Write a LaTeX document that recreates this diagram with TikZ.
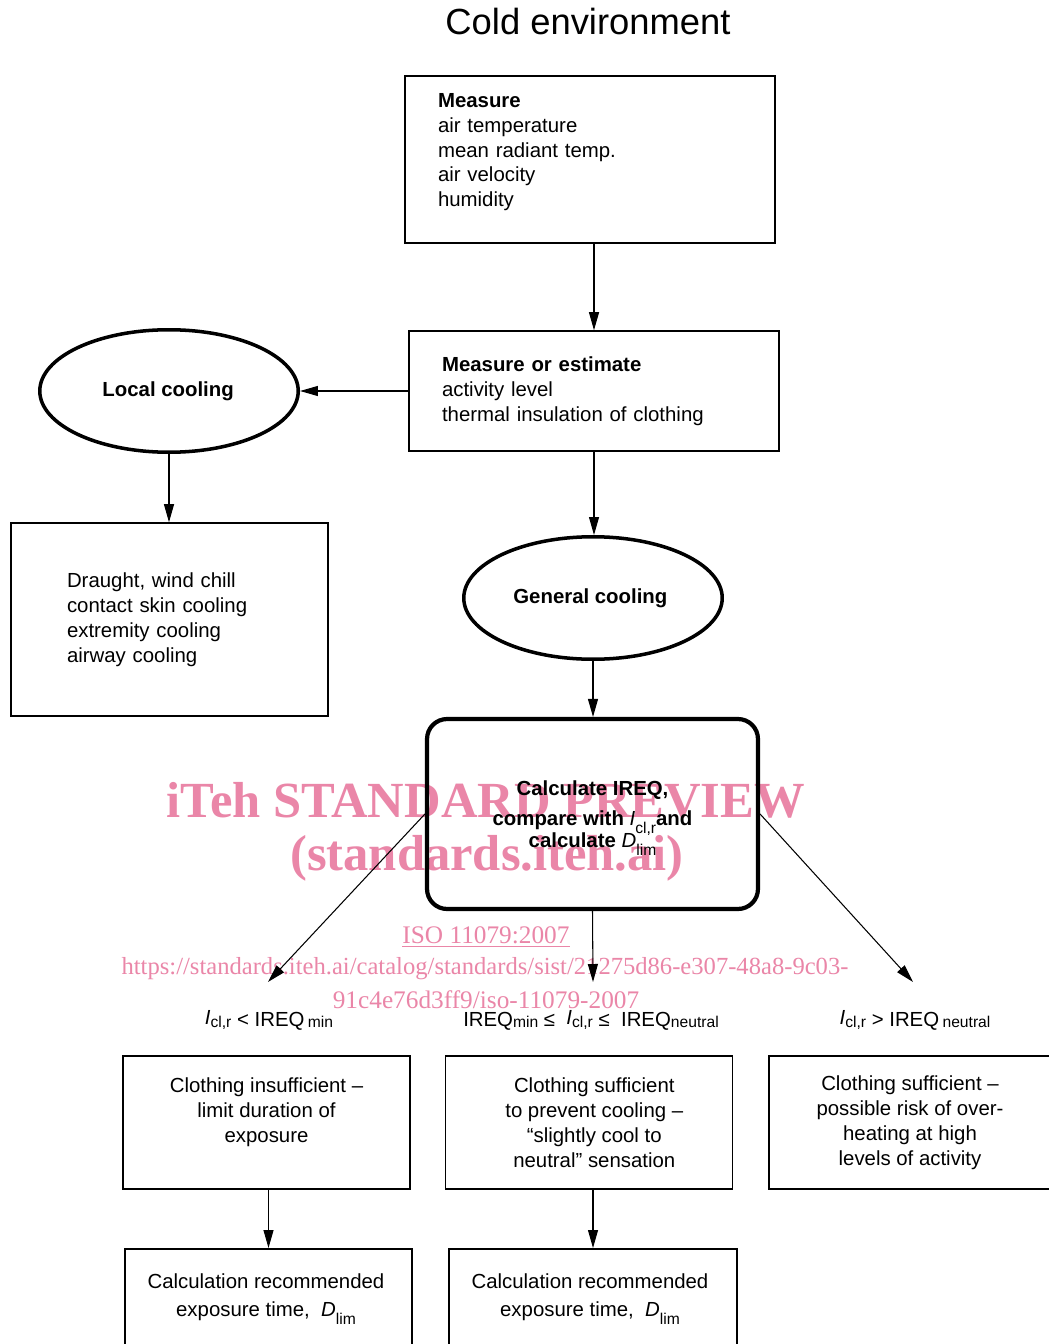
\documentclass[tikz,border=0pt]{standalone}
\usepackage{fontspec}
\setmainfont{Liberation Sans}
\newfontfamily\wmfont{Liberation Serif}
\usetikzlibrary{arrows.meta,positioning,shapes.geometric}
\definecolor{wmpink}{HTML}{EA86A8}
\tikzset{
  txt/.style={font=\fontsize{11.6}{14.2}\selectfont},
  flowbox/.style={draw, line width=0.9pt, txt, inner ysep=0pt},
  leftbox/.style={flowbox, align=left},
  midbox/.style={flowbox, align=center, minimum width=5.74cm, minimum height=2.66cm, inner xsep=0pt},
  coolell/.style={ellipse, draw, line width=2pt, inner sep=0pt, font=\fontsize{11.6}{14.2}\selectfont\bfseries,
    minimum width=5.17cm, minimum height=2.45cm},
  calcbox/.style={draw, rounded corners=0.4cm, line width=2.4pt, align=center,
    minimum width=6.62cm, minimum height=3.8cm, font=\fontsize{11.6}{14.2}\selectfont\bfseries},
  condlbl/.style={txt, inner sep=0pt},
  wmark/.style={text=wmpink, inner sep=0pt},
  arr/.style={-{Triangle[length=0.36cm,width=0.2cm]}, line width=0.6pt}
}
\newcommand{\subs}[2]{\raisebox{-#1}[0pt][0pt]{\fontsize{8.9}{10}\selectfont\mdseries #2}}
\newcommand{\Icl}{\raisebox{1.2pt}{\textit{I}}\subs{1pt}{cl,r}}
\newcommand{\Dlim}{\textit{D}\subs{4.5pt}{lim}}

\begin{document}
\begin{tikzpicture}[x=0.02cm,y=-0.02cm]
  \useasboundingbox (0,0) rectangle (1048,1344);
  % watermark
  \node[wmark, font=\wmfont\fontsize{28.8}{32}\selectfont\bfseries] (wmtitle) at (486,800) {iTeh STANDARD PREVIEW};
  \node[wmark, font=\wmfont\fontsize{28.8}{32}\selectfont\bfseries] (wmsite) at (487,858) {(standards.iteh.ai)};
  \node[wmark, font=\wmfont\fontsize{14.4}{16}\selectfont] (wmiso) at (486,937) {\underline{ISO 11079:2007}};
  \node[wmark, font=\wmfont\fontsize{14}{16}\selectfont] (wmurla) at (485,969) {https://standards.iteh.ai/catalog/standards/sist/21275d86-e307-48a8-9c03-};
  \node[wmark, font=\wmfont\fontsize{14.4}{16}\selectfont] (wmurlb) at (486,1000) {91c4e76d3ff9/iso-11079-2007};

  \node[font=\fontsize{20.7}{24}\selectfont, inner sep=0pt] (title) at (588,22) {Cold environment};

  \node[leftbox, text width=6.08cm, inner xsep=0.66cm, minimum height=3.34cm] (meas) at (590,159.5)
    {\textbf{Measure}\\air temperature\\mean radiant temp.\\air velocity\\humidity\\[-0.12cm]\mbox{}};
  \node[leftbox, text width=6.08cm, inner xsep=0.66cm, minimum height=2.4cm] (est) at (594,391)
    {\textbf{Measure or estimate}\\activity level\\thermal insulation of clothing};
  \node[coolell] (localc) at (169,391) {\hspace*{-1pt}Local cooling};
  \node[leftbox, text width=4.1cm, inner xsep=1.12cm, minimum height=3.86cm] (draught) at (169.5,619.5)
    {Draught, wind chill\\contact skin cooling\\extremity cooling\\airway cooling};
  \node[coolell] (genc) at (593,598) {\hspace*{-3pt}General cooling};
  \node[calcbox] (calc) at (592.5,814)
    {Calculate IREQ,\\[0.1cm]compare with \textnormal{\textit{I}\subs{4.5pt}{cl,r}}and\\[-0.06cm]calculate \textnormal{\Dlim}};

  \coordinate (tipL) at (268,982);
  \coordinate (tipM) at (593,982);
  \coordinate (tipR) at (913,982);
  \node[condlbl] (condL) at (269,1020) {\Icl{} < IREQ\,\subs{1pt}{min}};
  \node[condlbl] (condM) at (591,1020) {IREQ\subs{1pt}{min} ≤ \;\Icl{} ≤ \;IREQ\subs{1pt}{neutral}};
  \node[condlbl] (condR) at (915,1020) {\Icl{} > IREQ\,\subs{1pt}{neutral}};

  \node[midbox] (clothA) at (266.5,1122.5) {Clothing insufficient --\\limit duration of\\exposure\\\mbox{}};
  \node[midbox] (clothB) at (589,1122.5) {\hspace*{6pt}Clothing sufficient\\\hspace*{6pt}to prevent cooling --\\\hspace*{6pt}“slightly cool to\\\hspace*{6pt}neutral” sensation};
  \node[midbox, minimum width=5.64cm] (clothC) at (910,1122.5) {Clothing sufficient --\\possible risk of over-\\heating at high\\levels of activity};

  \node[midbox, anchor=north] (recA) at (268.5,1248) {};
  \node[midbox, anchor=north, minimum width=5.76cm] (recB) at (593,1248) {};
  \node[txt, align=center, inner sep=0pt] (recAtxt) at (266,1297) {Calculation recommended\\[0.07cm]exposure time,\; \Dlim};
  \node[txt, align=center, inner sep=0pt] (recBtxt) at (590,1297) {Calculation recommended\\[0.07cm]exposure time,\; \Dlim};

  \draw[arr] (est.north |- meas.south) -- (est.north);
  \draw[arr] (est.west) -- (localc.east);
  \draw[arr] (localc.south) -- (localc.south |- draught.north);
  \draw[arr] (est.south) -- (est.south |- genc.north);
  \draw[arr] (genc.south) -- (genc.south |- calc.north);
  \draw[arr] (calc.west) -- (tipL);
  \draw[arr] (calc.south) -- (tipM);
  \draw[arr] (calc.east) -- (tipR);
  \draw[arr] (clothA.south -| recA.north) -- (recA.north);
  \draw[arr] (clothB.south -| recB.north) -- (recB.north);
\end{tikzpicture}
\end{document}
